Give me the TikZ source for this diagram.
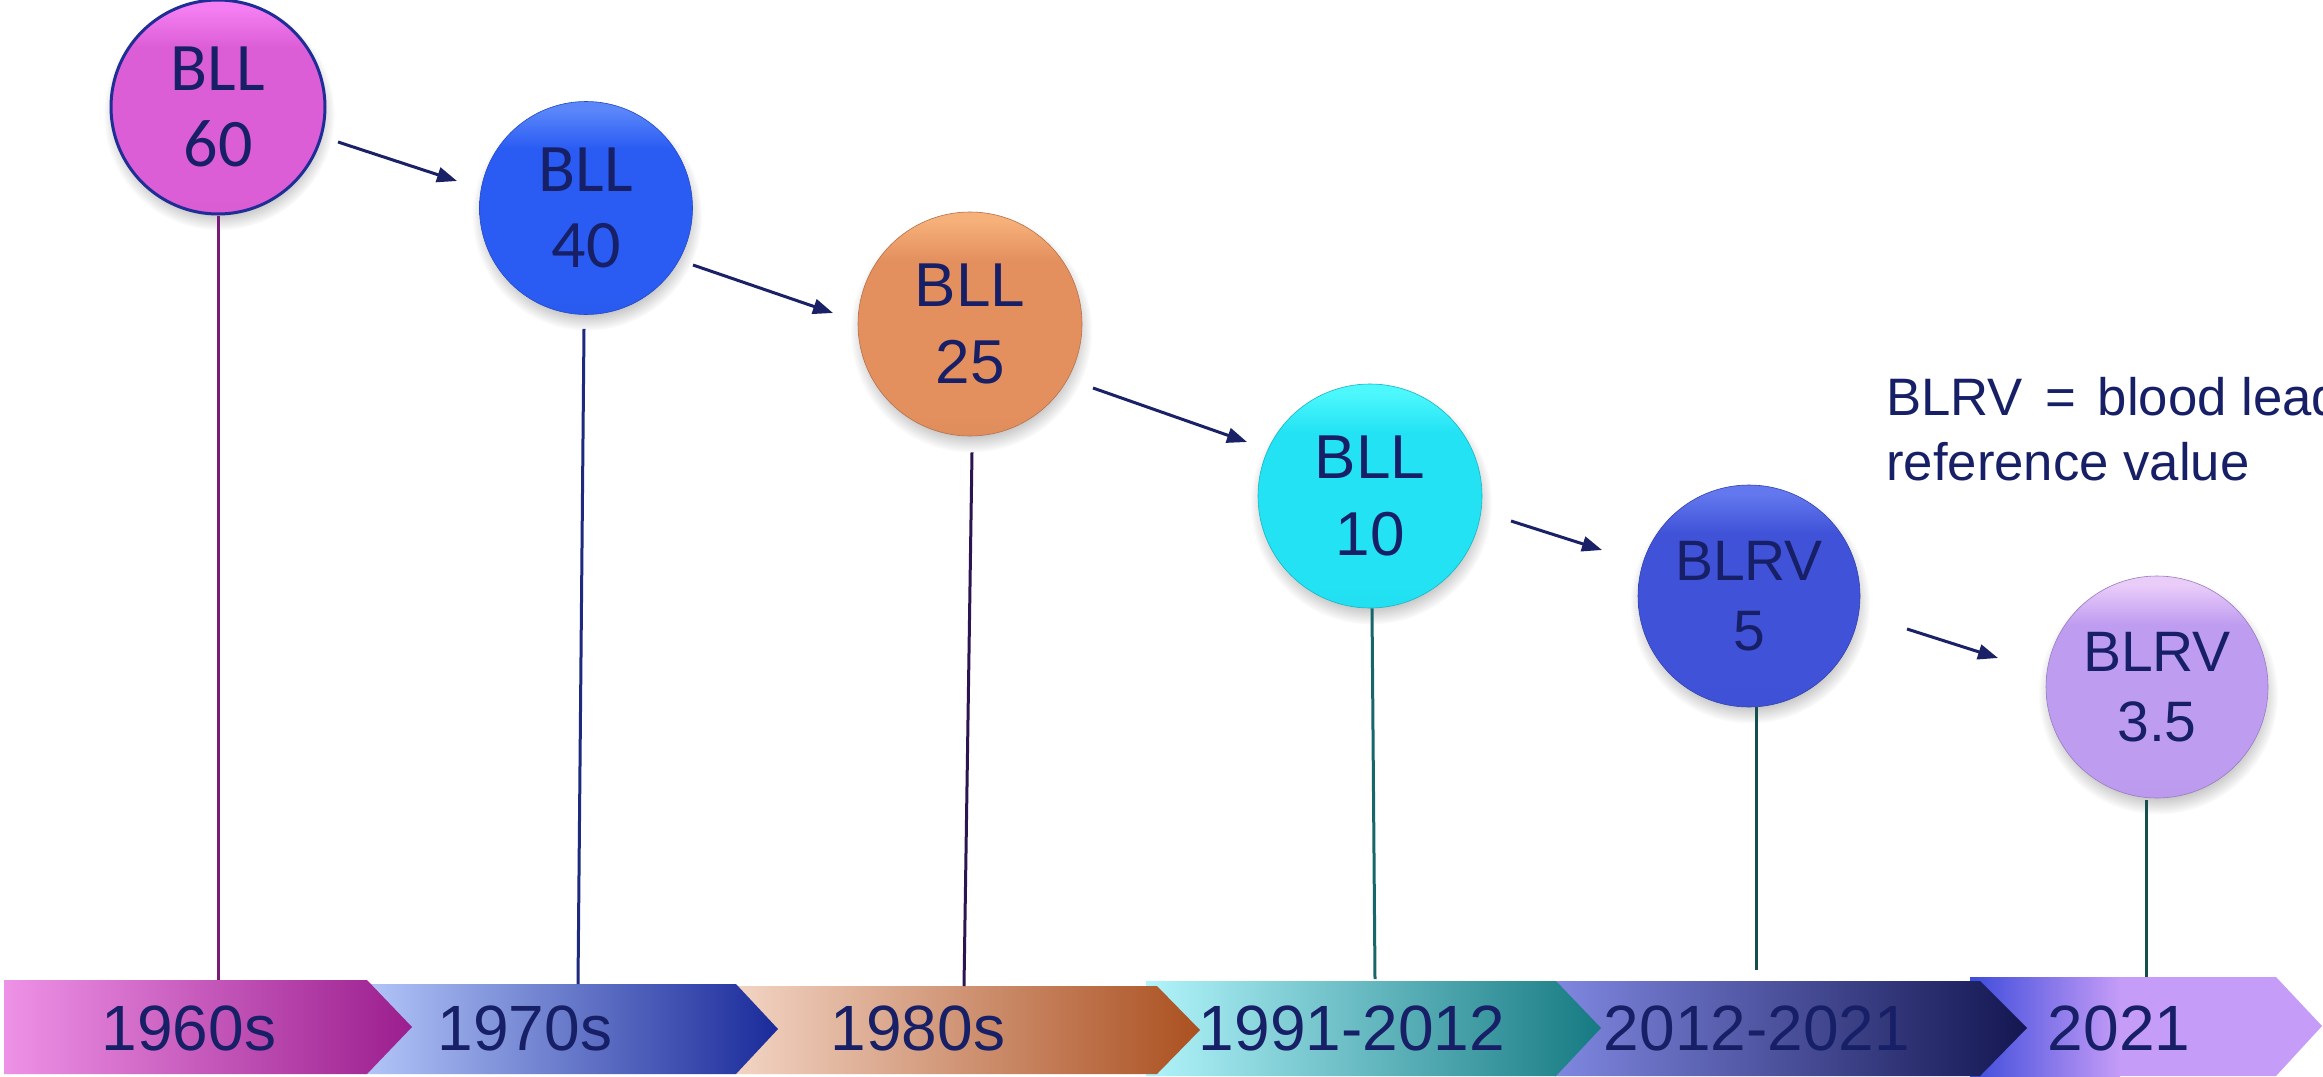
\documentclass[tikz,border=0pt]{standalone}
\usepackage{fontspec}
\setmainfont{Liberation Sans}
\newfontfamily\calib{Carlito}
\usetikzlibrary{arrows.meta,shadows}
\definecolor{navy}{HTML}{172066}
\definecolor{arrowc}{HTML}{1A2166}
% circle colours
\definecolor{c1t}{HTML}{F47EF2}\definecolor{c1m}{HTML}{DC5ED6}\definecolor{c1b}{HTML}{1E2E96}
\definecolor{c2t}{HTML}{5A86FA}\definecolor{c2m}{HTML}{2A5CF3}
\definecolor{c3t}{HTML}{F6B07A}\definecolor{c3m}{HTML}{E38F5E}
\definecolor{c4t}{HTML}{4CF8FC}\definecolor{c4m}{HTML}{22E2F4}
\definecolor{c5t}{HTML}{6378EE}\definecolor{c5m}{HTML}{3F52D8}
\definecolor{c6t}{HTML}{EACCF9}\definecolor{c6m}{HTML}{BE9CF0}
% stem colours
\definecolor{s1}{HTML}{7A1A78}\definecolor{s2}{HTML}{1E2A80}\definecolor{s3}{HTML}{2B1450}
\definecolor{s4}{HTML}{17666A}\definecolor{s5}{HTML}{124F4E}
% band colours
\definecolor{b1a}{HTML}{EE92E6}\definecolor{b1b}{HTML}{9B1E8E}
\definecolor{b2a}{HTML}{B2C5F8}\definecolor{b2b}{HTML}{1A2A9A}
\definecolor{b3a}{HTML}{F2D4C4}\definecolor{b3b}{HTML}{AB5020}
\definecolor{b4a}{HTML}{B2F4FB}\definecolor{b4b}{HTML}{167A82}
\definecolor{b5a}{HTML}{7F87E0}\definecolor{b5b}{HTML}{131650}
\definecolor{b6a}{HTML}{3E4CDB}\definecolor{b6b}{HTML}{C59CF7}
\colorlet{ballt}{white}\colorlet{ballm}{white}
\pgfdeclareverticalshading[ballt,ballm]{ballshade}{100bp}{%
  color(0bp)=(ballm!92!black); color(30bp)=(ballm); color(64bp)=(ballm);
  color(73bp)=(ballt); color(100bp)=(ballt)}
\begin{document}
\begin{tikzpicture}[x=1pt,y=-1pt,
  ballcol/.code 2 args={\colorlet{ballt}{#1}\colorlet{ballm}{#2}},
  ball/.style={circle, inner sep=0pt, align=center, text=navy, shading=ballshade,
    circular drop shadow={shadow scale=1.08, shadow xshift=1pt, shadow yshift=-7pt, opacity=0.45}},
  ballA/.style={ball, font=\calib\fontsize{68}{76}\selectfont},
  ballB/.style={ball, font=\fontsize{62}{77}\selectfont},
  ballC/.style={ball, font=\fontsize{57}{70}\selectfont},
  conn/.style={draw=arrowc, line width=3pt, -{Triangle[length=20pt,width=15pt]}},
  stem/.style={line width=3pt},
  yearlabel/.style={anchor=base, inner sep=0pt, text=navy, font=\fontsize{64}{64}\selectfont},
  note/.style={anchor=north west, inner sep=0pt, align=left, text=navy, font=\fontsize{52.7}{65}\selectfont}
]
\clip (0,0) rectangle (2323,1076);
\fill[white] (0,0) rectangle (2323,1076);

% ---- timeline bands (drawn last to first so each tip overlaps the next)
\fill[b6b] (1970,977) -- (2276,977) -- (2322,1026) -- (2276,1076) -- (1970,1076) -- cycle;
\shade[left color=b6a, right color=b6b] (1970,977) rectangle (2120,1076);
\shade[left color=b5a, right color=b5b] (1555,981) -- (1980,981) -- (2027,1028) -- (1980,1076) -- (1555,1076) -- cycle;
\shade[left color=b4a, right color=b4b] (1146,981) -- (1556,981) -- (1601,1028) -- (1556,1076) -- (1146,1076) -- cycle;
\shade[left color=b3a, right color=b3b] (736,986) -- (1157,986) -- (1200,1030) -- (1157,1074) -- (736,1074) -- cycle;
\shade[left color=b2a, right color=b2b] (367,984) -- (736,984) -- (778,1029) -- (736,1074) -- (367,1074) -- cycle;
\shade[left color=b1a, right color=b1b] (4,980) -- (367,980) -- (412,1027) -- (367,1074) -- (4,1074) -- cycle;

\node[yearlabel] (y1) at (189,1050) {1960s};
\node[yearlabel] (y2) at (525,1050) {1970s};
\node[yearlabel] (y3) at (918,1050) {1980s};
\node[yearlabel] (y4) at (1352,1050) {1991-2012};
\node[yearlabel] (y5) at (1757,1050) {2012-2021};
\node[yearlabel] (y6) at (2119,1050) {2021};

% stem end points on the band tops
\coordinate (e1) at (218,980);
\coordinate (e2) at (578,984);
\coordinate (e3) at (964,986);
\coordinate (e4) at (1375,979);
\coordinate (e5) at (1756,970);
\coordinate (e6) at (2146,977);

% ---- circles
\node[ballA, ballcol={c1t}{c1m}, minimum size=214pt, draw=c1b, line width=3pt] (c1) at (218,107) {BLL\\60};
\node[ballA, ballcol={c2t}{c2m}, minimum size=213pt, draw=c2m!80!black, line width=0.6pt] (c2) at (586,208) {BLL\\40};
\node[ballB, ballcol={c3t}{c3m}, minimum size=224pt, draw=c3m!80!black, line width=0.6pt] (c3) at (970,324) {BLL\\25};
\node[ballB, ballcol={c4t}{c4m}, minimum size=224pt, draw=c4m!80!black, line width=0.6pt] (c4) at (1370,496) {BLL\\10};
\node[ballC, ballcol={c5t}{c5m}, minimum size=222pt, draw=c5m!80!black, line width=0.6pt] (c5) at (1749,596) {BLRV\\5};
\node[ballC, ballcol={c6t}{c6m}, minimum size=222pt, draw=c6m!80!black, line width=0.6pt] (c6) at (2157,687) {BLRV\\3.5};

% ---- stems
\draw[stem, s1] (c1.south) -- (e1);
\draw[stem, s2] ([xshift=-2pt,yshift=-14pt]c2.south) -- (e2);
\draw[stem, s3] ([xshift=2pt,yshift=-16pt]c3.south) -- (e3);
\draw[stem, s4] ([xshift=2pt]c4.south) -- (e4);
\draw[stem, s5] ([xshift=7pt]c5.south) -- (e5);
\draw[stem, s5] ([xshift=-11pt,yshift=-2pt]c6.south) -- (e6);

% ---- arrows between circles
\coordinate (a1s) at (338,142); \coordinate (a1e) at (457,181);
\coordinate (a2s) at (693,265); \coordinate (a2e) at (833,313);
\coordinate (a3s) at (1093,388); \coordinate (a3e) at (1247,442);
\coordinate (a4s) at (1511,521); \coordinate (a4e) at (1602,550);
\coordinate (a5s) at (1907,629); \coordinate (a5e) at (1998,658);
\draw[conn] (a1s) -- (a1e);
\draw[conn] (a2s) -- (a2e);
\draw[conn] (a3s) -- (a3e);
\draw[conn] (a4s) -- (a4e);
\draw[conn] (a5s) -- (a5e);

% ---- note (runs past the right edge, as in the reference)
\node[note] (n) at (1886,377) {BLRV\hspace{0.42em}=\hspace{0.42em}blood lead\\reference value};
\end{tikzpicture}
\end{document}
